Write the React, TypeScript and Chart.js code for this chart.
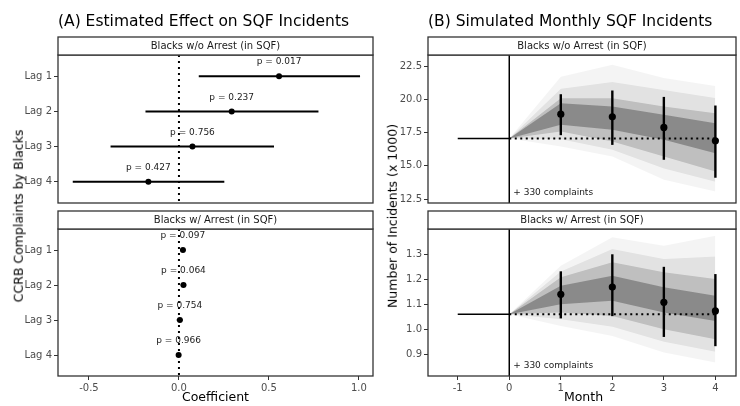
import React, { useEffect, useRef } from "react";
import { Chart, registerables } from "chart.js";

Chart.register(...registerables);
Chart.defaults.font.family = "'DejaVu Sans', sans-serif";

// ---------- Data: panel A (forest plots) ----------
const lagLabels = ["Lag 1", "Lag 2", "Lag 3", "Lag 4"];
const lagPos = [1, 2, 3, 4];
const coefTicks = [-0.5, 0, 0.5, 1.0];

const noArrestEst = [0.556, 0.293, 0.075, -0.17];
const noArrestLo = [0.11, -0.186, -0.38, -0.59];
const noArrestHi = [1.006, 0.775, 0.528, 0.252];
const noArrestP = ["p = 0.017", "p = 0.237", "p = 0.756", "p = 0.427"];

const arrestEst = [0.022, 0.025, 0.005, -0.002];
const arrestLo = [0.008, 0.01, -0.012, -0.016];
const arrestHi = [0.036, 0.04, 0.02, 0.012];
const arrestP = ["p = 0.097", "p = 0.064", "p = 0.754", "p = 0.966"];

// ---------- Data: panel B (simulations) ----------
const months = [1, 2, 3, 4];
const bandMonths = [0, 1, 2, 3, 4];
const monthTicks = [-1, 0, 1, 2, 3, 4];
const complaintsNote = "+ 330 complaints";

const simNoArrestBase = 17.05;
const simNoArrestMean = [18.88, 18.68, 17.88, 16.88];
const simNoArrestLo = [17.3, 16.57, 15.45, 14.1];
const simNoArrestHi = [20.38, 20.66, 20.18, 19.53];
const cloudNoArrestOuterHi = [17.05, 21.7, 22.6, 21.6, 21.0];
const cloudNoArrestOuterLo = [17.05, 16.45, 15.7, 13.94, 13.06];
const cloudNoArrestWideHi = [17.05, 20.8, 21.3, 20.7, 20.1];
const cloudNoArrestWideLo = [17.05, 17.0, 16.2, 14.8, 13.8];
const cloudNoArrestMidHi = [17.05, 20.08, 20.08, 19.45, 18.95];
const cloudNoArrestMidLo = [17.05, 17.57, 16.82, 15.7, 14.57];
const cloudNoArrestCoreHi = [17.05, 19.7, 19.45, 18.83, 18.2];
const cloudNoArrestCoreLo = [17.05, 18.08, 17.7, 16.95, 15.94];
const noArrestCountTicks = [12.5, 15, 17.5, 20, 22.5];

const simArrestBase = 1.06;
const simArrestMean = [1.139, 1.168, 1.107, 1.073];
const simArrestLo = [1.043, 1.052, 0.969, 0.932];
const simArrestHi = [1.231, 1.299, 1.249, 1.22];
const cloudArrestOuterHi = [1.06, 1.253, 1.367, 1.333, 1.373];
const cloudArrestOuterLo = [1.06, 1.013, 0.973, 0.907, 0.867];
const cloudArrestWideHi = [1.06, 1.23, 1.32, 1.28, 1.29];
const cloudArrestWideLo = [1.06, 1.04, 1.01, 0.95, 0.91];
const cloudArrestMidHi = [1.06, 1.207, 1.267, 1.227, 1.2];
const cloudArrestMidLo = [1.06, 1.067, 1.053, 1.0, 0.96];
const cloudArrestCoreHi = [1.06, 1.173, 1.213, 1.167, 1.133];
const cloudArrestCoreLo = [1.06, 1.1, 1.113, 1.067, 1.033];
const arrestCountTicks = [0.9, 1.0, 1.1, 1.2, 1.3];

const stripNoArrest = "Blacks w/o Arrest (in SQF)";
const stripArrest = "Blacks w/ Arrest (in SQF)";

// ---------- Layout ----------
const W = 740;
const H = 406;
const X_AXIS_H = 26;
const TICK_COLOR = "#4d4d4d";
const LINE_COLOR = "#333333";

type Area = { left: number; right: number; top: number; bottom: number };

function panelPlugin(strip: string, drawExtra: (chart: any) => void) {
  return {
    id: "panelDecor",
    afterDatasetsDraw(chart: any) {
      const { ctx, chartArea: a } = chart;
      ctx.save();
      drawExtra(chart);
      ctx.strokeStyle = LINE_COLOR;
      ctx.lineWidth = 1.3;
      ctx.strokeRect(a.left, a.top, a.right - a.left, a.bottom - a.top);
      const sh = 18;
      ctx.fillStyle = "#ffffff";
      ctx.fillRect(a.left, a.top - sh, a.right - a.left, sh);
      ctx.strokeRect(a.left, a.top - sh, a.right - a.left, sh);
      ctx.fillStyle = "#1a1a1a";
      ctx.font = "10px 'DejaVu Sans'";
      ctx.textAlign = "center";
      ctx.textBaseline = "middle";
      ctx.fillText(strip, (a.left + a.right) / 2, a.top - sh / 2 + 0.5);
      ctx.restore();
    },
  };
}

function axisCommon(ticks: number[], fmt: (v: number) => string) {
  return {
    type: "linear" as const,
    afterBuildTicks: (s: any) => {
      s.ticks = ticks.map((v) => ({ value: v }));
    },
    ticks: {
      callback: (v: any) => fmt(Number(v)),
      color: TICK_COLOR,
      font: { size: 10 },
      autoSkip: false,
      maxRotation: 0,
      padding: 2,
    },
    grid: {
      display: true,
      drawOnChartArea: false,
      drawTicks: true,
      tickLength: 4,
      color: LINE_COLOR,
      lineWidth: 1,
    },
    border: { display: false },
  };
}

function baseOptions(area: Area, yWidth: number, showX: boolean, scales: any) {
  return {
    responsive: false,
    animation: false as const,
    devicePixelRatio: 1,
    events: [],
    layout: {
      padding: {
        left: area.left - yWidth,
        top: area.top,
        right: W - area.right,
        bottom: showX ? H - area.bottom - X_AXIS_H : H - area.bottom,
      },
    },
    plugins: { legend: { display: false }, tooltip: { enabled: false } },
    scales,
  };
}

function seg(x1: number, y1: number, x2: number, y2: number, width: number, dash?: number[]) {
  return {
    data: [
      { x: x1, y: y1 },
      { x: x2, y: y2 },
    ],
    borderColor: "#000",
    borderWidth: width,
    borderDash: dash || [],
    pointRadius: 0,
    fill: false,
    tension: 0,
  };
}

function xAxisFit(showX: boolean) {
  return (s: any) => {
    s.height = showX ? X_AXIS_H : 0;
  };
}

function forestConfig(
  est: number[],
  lo: number[],
  hi: number[],
  pvals: string[],
  strip: string,
  area: Area,
  showX: boolean
): any {
  const datasets: any[] = [];
  datasets.push(seg(0, 0.4, 0, 4.6, 2, [2, 4]));
  lagPos.forEach((y, i) => datasets.push(seg(lo[i], y, hi[i], y, 2)));
  datasets.push({
    data: lagPos.map((y, i) => ({ x: est[i], y })),
    showLine: false,
    pointRadius: 3,
    pointBackgroundColor: "#000",
    pointBorderColor: "#000",
    pointBorderWidth: 0,
  });
  const yWidth = 50;
  const xAxis = {
    ...axisCommon(coefTicks, (v) => v.toFixed(1)),
    min: -0.672,
    max: 1.078,
    display: showX,
    afterFit: xAxisFit(showX),
  };
  const yAxis = {
    ...axisCommon(lagPos, (v) => lagLabels[v - 1] ?? ""),
    min: 0.4,
    max: 4.6,
    reverse: true,
    afterFit: (s: any) => {
      s.width = yWidth;
    },
  };
  return {
    type: "line",
    data: { datasets },
    options: baseOptions(area, yWidth, showX, { x: xAxis, y: yAxis }),
    plugins: [
      panelPlugin(strip, (chart: any) => {
        const { ctx } = chart;
        const xs = chart.scales.x;
        const ys = chart.scales.y;
        ctx.fillStyle = "#1a1a1a";
        ctx.font = "9px 'DejaVu Sans'";
        ctx.textAlign = "center";
        ctx.textBaseline = "middle";
        lagPos.forEach((y, i) => {
          ctx.fillText(pvals[i], xs.getPixelForValue(est[i]), ys.getPixelForValue(y) - 14);
        });
      }),
    ],
  };
}

function band(hiVals: number[], loVals: number[], color: string) {
  return [
    {
      data: bandMonths.map((m, i) => ({ x: m, y: hiVals[i] })),
      borderWidth: 0,
      borderColor: "rgba(0,0,0,0)",
      pointRadius: 0,
      fill: "+1",
      backgroundColor: color,
      tension: 0,
    },
    {
      data: bandMonths.map((m, i) => ({ x: m, y: loVals[i] })),
      borderWidth: 0,
      borderColor: "rgba(0,0,0,0)",
      pointRadius: 0,
      fill: false,
      tension: 0,
    },
  ];
}

function simConfig(
  base: number,
  mean: number[],
  lo: number[],
  hi: number[],
  bands: [number[], number[]][],
  yTicks: number[],
  yMin: number,
  yMax: number,
  strip: string,
  area: Area,
  showX: boolean
): any {
  const alphas = [0.045, 0.075, 0.16, 0.28];
  const datasets: any[] = [];
  bands.forEach((b, i) => datasets.push(...band(b[0], b[1], `rgba(0,0,0,${alphas[i]})`)));
  datasets.push(seg(-1, base, 0, base, 1.5));
  datasets.push(seg(0, base, 4, base, 2, [2, 3.5]));
  datasets.push(seg(0, yMin, 0, yMax, 1.5));
  months.forEach((m, i) => datasets.push(seg(m, lo[i], m, hi[i], 2.4)));
  datasets.push({
    data: months.map((m, i) => ({ x: m, y: mean[i] })),
    showLine: false,
    pointRadius: 3.6,
    pointBackgroundColor: "#000",
    pointBorderColor: "#000",
    pointBorderWidth: 0,
  });
  const yWidth = 40;
  const xAxis = {
    ...axisCommon(monthTicks, (v) => String(v)),
    min: -1.577,
    max: 4.4,
    display: showX,
    afterFit: xAxisFit(showX),
  };
  const yAxis = {
    ...axisCommon(yTicks, (v) => v.toFixed(1)),
    min: yMin,
    max: yMax,
    afterFit: (s: any) => {
      s.width = yWidth;
    },
  };
  return {
    type: "line",
    data: { datasets },
    options: baseOptions(area, yWidth, showX, { x: xAxis, y: yAxis }),
    plugins: [
      panelPlugin(strip, (chart: any) => {
        const { ctx, chartArea } = chart;
        const xs = chart.scales.x;
        ctx.fillStyle = "#1a1a1a";
        ctx.font = "9px 'DejaVu Sans'";
        ctx.textAlign = "left";
        ctx.textBaseline = "middle";
        ctx.fillText(complaintsNote, xs.getPixelForValue(0) + 4, chartArea.bottom - 10);
      }),
    ],
  };
}

const canvasStyle: React.CSSProperties = {
  position: "absolute",
  left: 0,
  top: 0,
  width: W,
  height: H,
  pointerEvents: "none",
};

function Txt(props: { children: string; x: number; y: number; size: number; rotate?: boolean }) {
  const { children, x, y, size, rotate } = props;
  return (
    <div
      style={{
        position: "absolute",
        left: x,
        top: y,
        transform: `translate(-50%, -50%)${rotate ? " rotate(-90deg)" : ""}`,
        fontFamily: "'DejaVu Sans', sans-serif",
        fontSize: size,
        lineHeight: 1,
        whiteSpace: "nowrap",
        color: "#000",
      }}
    >
      {children}
    </div>
  );
}

const titleStyle: React.CSSProperties = {
  position: "absolute",
  top: 13,
  fontFamily: "'DejaVu Sans', sans-serif",
  fontSize: 15.5,
  lineHeight: "16px",
  whiteSpace: "nowrap",
};

export default function App() {
  const c1 = useRef<HTMLCanvasElement>(null);
  const c2 = useRef<HTMLCanvasElement>(null);
  const c3 = useRef<HTMLCanvasElement>(null);
  const c4 = useRef<HTMLCanvasElement>(null);

  useEffect(() => {
    const charts = [
      new Chart(
        c1.current!,
        forestConfig(noArrestEst, noArrestLo, noArrestHi, noArrestP, stripNoArrest,
          { left: 58, right: 373, top: 55, bottom: 203 }, false)
      ),
      new Chart(
        c2.current!,
        forestConfig(arrestEst, arrestLo, arrestHi, arrestP, stripArrest,
          { left: 58, right: 373, top: 229, bottom: 376 }, true)
      ),
      new Chart(
        c3.current!,
        simConfig(simNoArrestBase, simNoArrestMean, simNoArrestLo, simNoArrestHi,
          [
            [cloudNoArrestOuterHi, cloudNoArrestOuterLo],
            [cloudNoArrestWideHi, cloudNoArrestWideLo],
            [cloudNoArrestMidHi, cloudNoArrestMidLo],
            [cloudNoArrestCoreHi, cloudNoArrestCoreLo],
          ],
          noArrestCountTicks, 12.2, 23.33, stripNoArrest,
          { left: 428, right: 739, top: 55, bottom: 203 }, false)
      ),
      new Chart(
        c4.current!,
        simConfig(simArrestBase, simArrestMean, simArrestLo, simArrestHi,
          [
            [cloudArrestOuterHi, cloudArrestOuterLo],
            [cloudArrestWideHi, cloudArrestWideLo],
            [cloudArrestMidHi, cloudArrestMidLo],
            [cloudArrestCoreHi, cloudArrestCoreLo],
          ],
          arrestCountTicks, 0.813, 1.4, stripArrest,
          { left: 428, right: 739, top: 229, bottom: 376 }, true)
      ),
    ];
    return () => charts.forEach((c) => c.destroy());
  }, []);

  return (
    <div style={{ position: "absolute", left: 0, top: 0, width: W, height: H, background: "#fff", overflow: "hidden" }}>
      <canvas ref={c1} width={W} height={H} style={canvasStyle} />
      <canvas ref={c2} width={W} height={H} style={canvasStyle} />
      <canvas ref={c3} width={W} height={H} style={canvasStyle} />
      <canvas ref={c4} width={W} height={H} style={canvasStyle} />
      <div style={{ ...titleStyle, left: 58 }}>(A) Estimated Effect on SQF Incidents</div>
      <div style={{ ...titleStyle, left: 428 }}>(B) Simulated Monthly SQF Incidents</div>
      <Txt x={19} y={215.5} size={12.5} rotate>CCRB Complaints by Blacks</Txt>
      <Txt x={393} y={215.5} size={12.5} rotate>Number of Incidents (x 1000)</Txt>
      <Txt x={215.5} y={397} size={12.5}>Coefficient</Txt>
      <Txt x={583.5} y={397} size={12.5}>Month</Txt>
    </div>
  );
}
